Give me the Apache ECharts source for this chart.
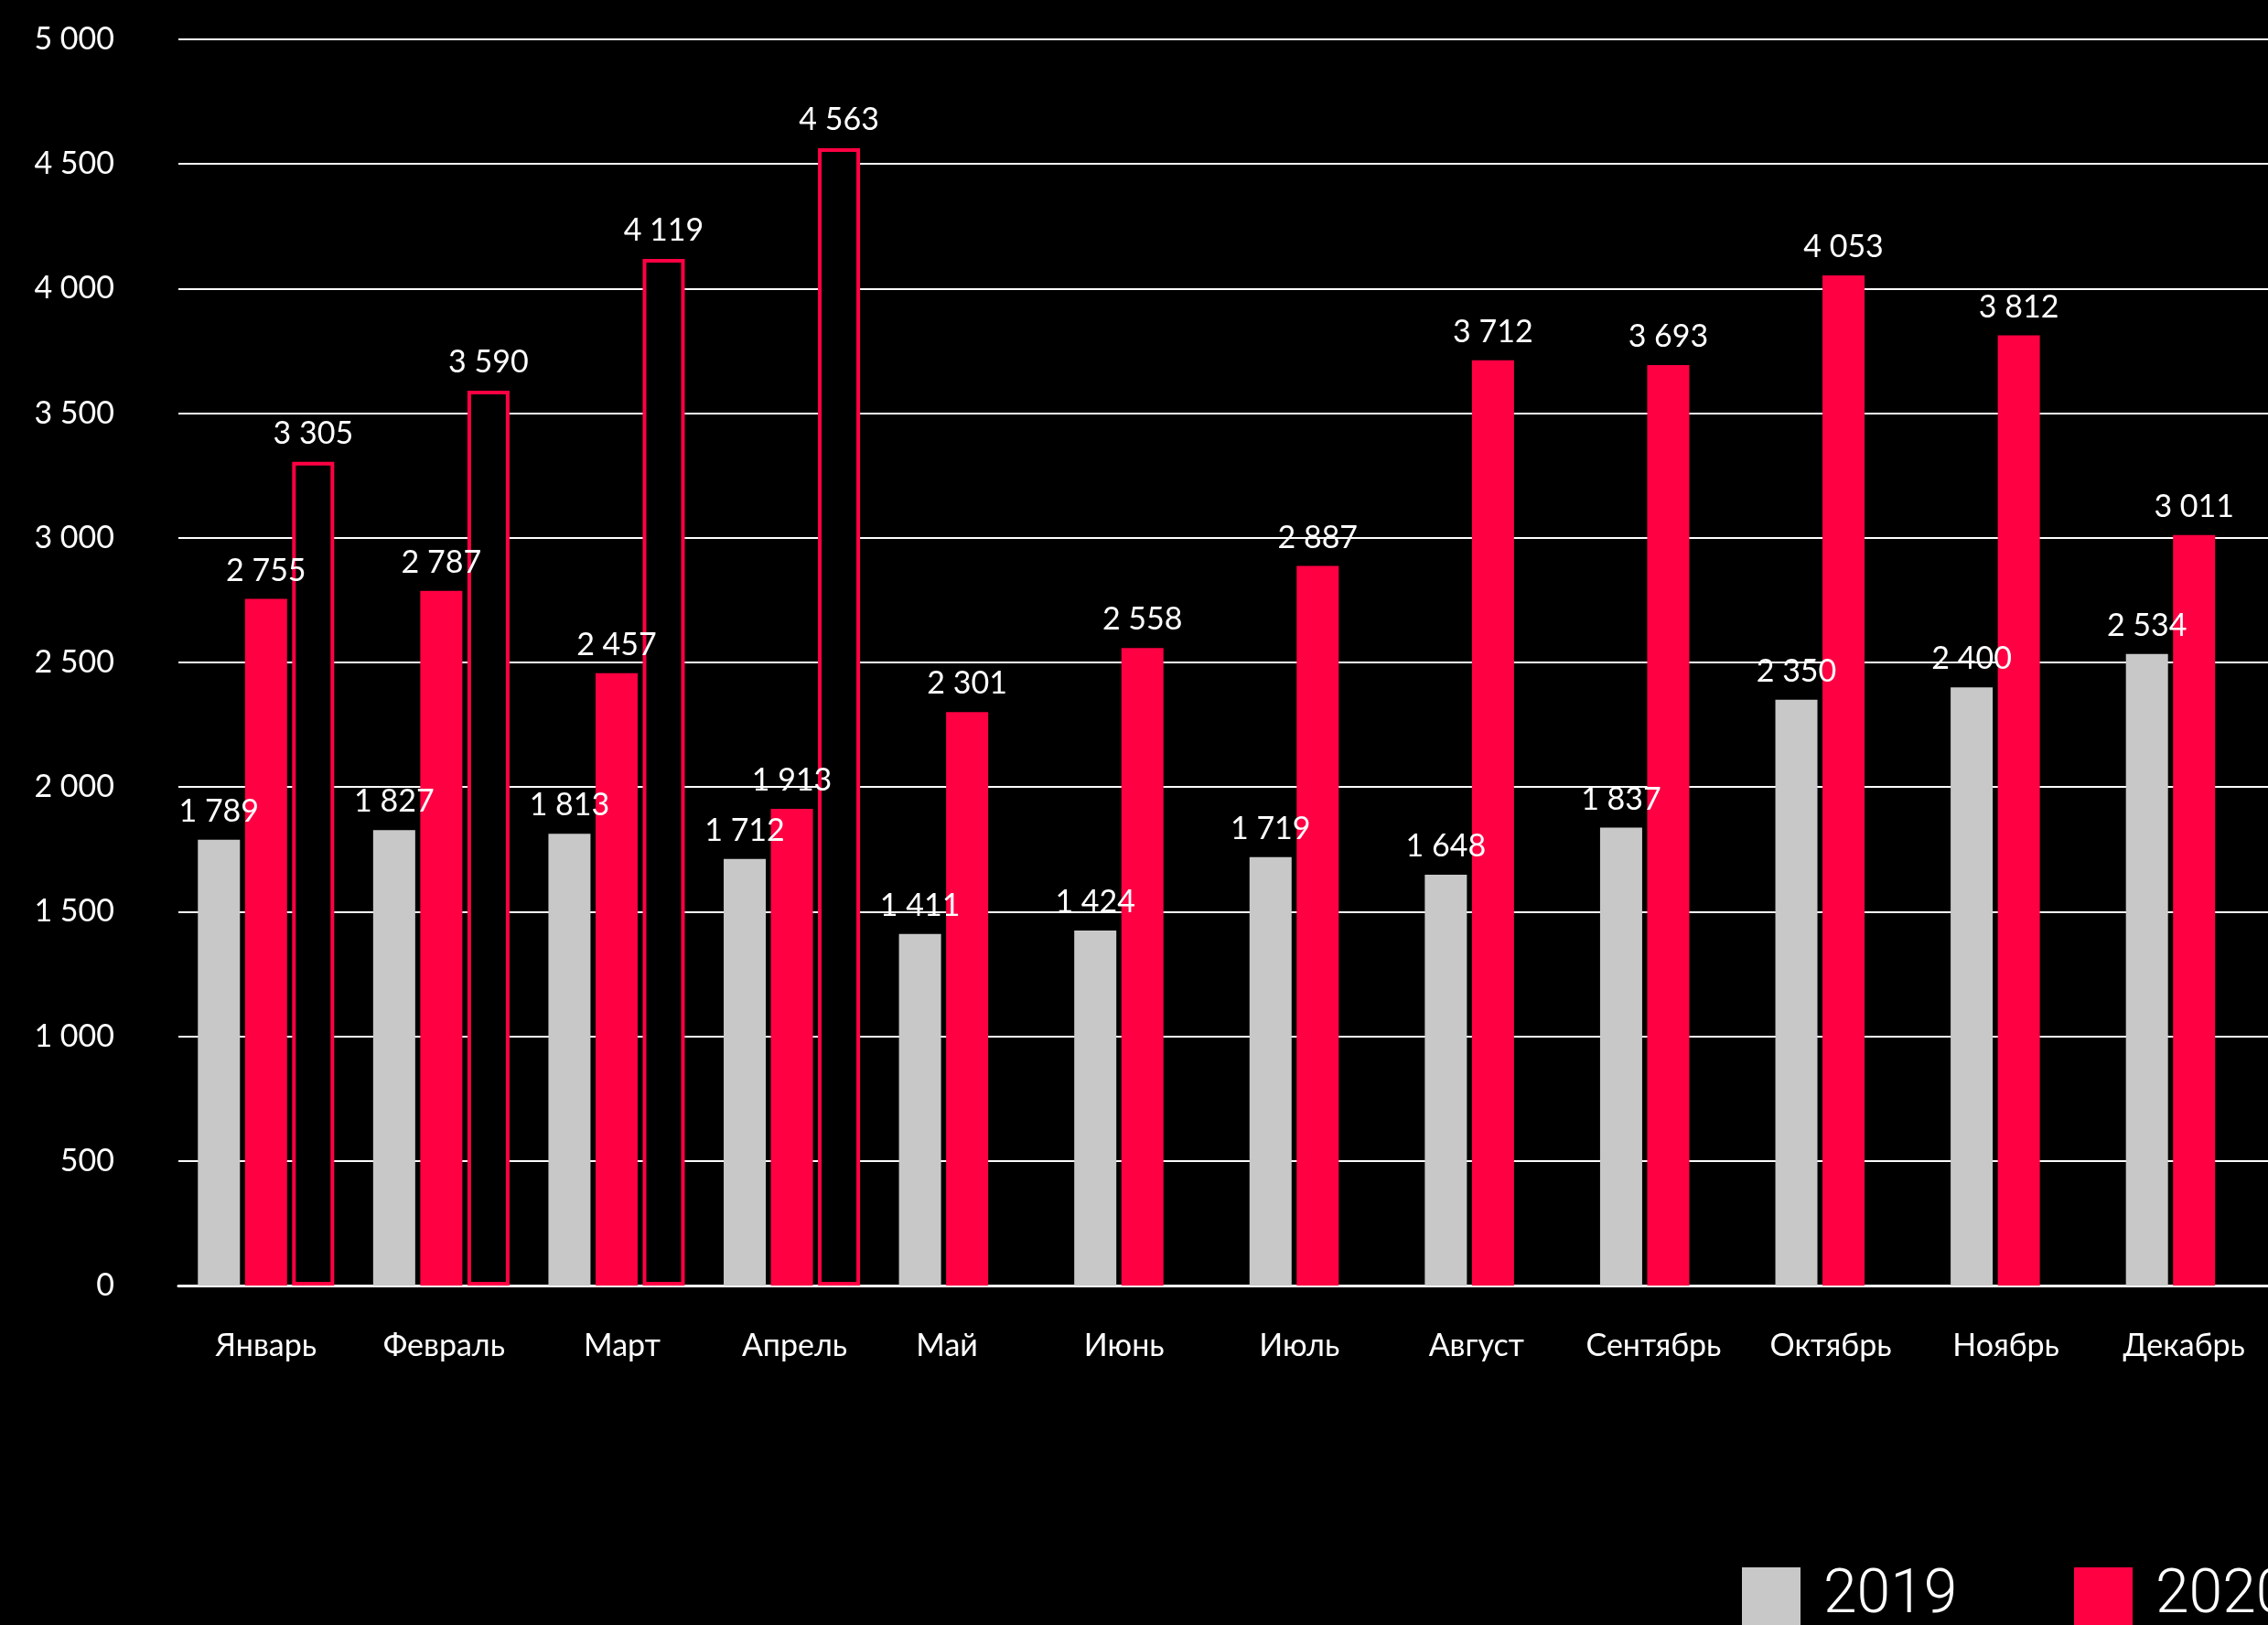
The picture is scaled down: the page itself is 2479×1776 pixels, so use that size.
<!DOCTYPE html>
<html>
<head>
<meta charset="utf-8">
<script src="https://cdn.jsdelivr.net/npm/echarts@6/dist/echarts.min.js"></script>
<style>
html,body{margin:0;padding:0;background:#000;overflow:hidden;}
#chart{width:2496px;height:1776px;}
</style>
</head>
<body>
<div id="chart"></div>
<script>
const months = ['Январь','Февраль','Март','Апрель','Май','Июнь','Июль','Август','Сентябрь','Октябрь','Ноябрь','Декабрь'];
const values2019 = [1789, 1827, 1813, 1712, 1411, 1424, 1719, 1648, 1837, 2350, 2400, 2534];
const values2020 = [2755, 2787, 2457, 1913, 2301, 2558, 2887, 3712, 3693, 4053, 3812, 3011];
const valuesOutline = [3305, 3590, 4119, 4563, null, null, null, null, null, null, null, null];
const legendNames = ['2019', '2020'];

const GRAY = '#C8C8C8';
const RED = '#FF0043';
const FONT = 'Lato, "Noto Sans", sans-serif';

// horizontal nudges (px) of month labels, as placed in the reference
const labelNudge = [0, 3, 6, 3, -22, -20, -20, -18, -16, -14, -14, -11];

function fmt(v){
  return String(v).replace(/\B(?=(\d{3})+(?!\d))/g, ' ');
}

const labelCfg = {
  show: true,
  position: 'top',
  distance: 14,
  color: '#fff',
  fontFamily: FONT,
  fontSize: 34,
  formatter: p => fmt(p.value)
};

const legendText = { color: '#fff', fontFamily: 'Roboto, sans-serif', fontWeight: 300, fontSize: 66, padding: [0, 0, 0, 20] };

const categoryData = months.map((m, i) => {
  const s = labelNudge[i];
  return { value: m, textStyle: { padding: s >= 0 ? [0, 0, 0, 2 * s] : [0, -2 * s, 0, 0] } };
});

const chart = echarts.init(document.getElementById('chart'));
chart.setOption({
  backgroundColor: '#000',
  animation: false,
  grid: { left: 195, top: 43, right: 2, height: 1362, containLabel: false },
  legend: [
    {
      left: 1899, top: 1707, itemWidth: 64, itemHeight: 64, icon: 'rect',
      data: [legendNames[0]], textStyle: legendText
    },
    {
      left: 2262, top: 1707, itemWidth: 64, itemHeight: 64, icon: 'rect',
      data: [legendNames[1]], textStyle: legendText
    }
  ],
  xAxis: {
    type: 'category',
    data: categoryData,
    axisLine: { show: true, lineStyle: { color: '#fff', width: 3 } },
    axisTick: { show: false },
    axisLabel: { color: '#fff', fontFamily: FONT, fontSize: 34, margin: 49, interval: 0 }
  },
  yAxis: {
    type: 'value',
    min: 0,
    max: 5000,
    interval: 500,
    axisLine: { show: false },
    axisTick: { show: false },
    splitLine: { lineStyle: { color: '#fff', width: 2 } },
    axisLabel: { color: '#fff', fontFamily: FONT, fontSize: 34, margin: 70, formatter: v => fmt(v) }
  },
  series: [
    {
      name: '2019', type: 'bar', data: values2019,
      barWidth: 46, barGap: '12%',
      itemStyle: { color: GRAY },
      label: labelCfg
    },
    {
      name: '2020', type: 'bar', data: values2020,
      barWidth: 46, barGap: '12%',
      itemStyle: { color: RED },
      label: labelCfg
    },
    {
      name: 'outline', type: 'bar', data: valuesOutline,
      barWidth: 46, barGap: '12%',
      itemStyle: { color: '#000', borderColor: RED, borderWidth: 4 },
      label: labelCfg
    }
  ]
});
</script>
</body>
</html>
